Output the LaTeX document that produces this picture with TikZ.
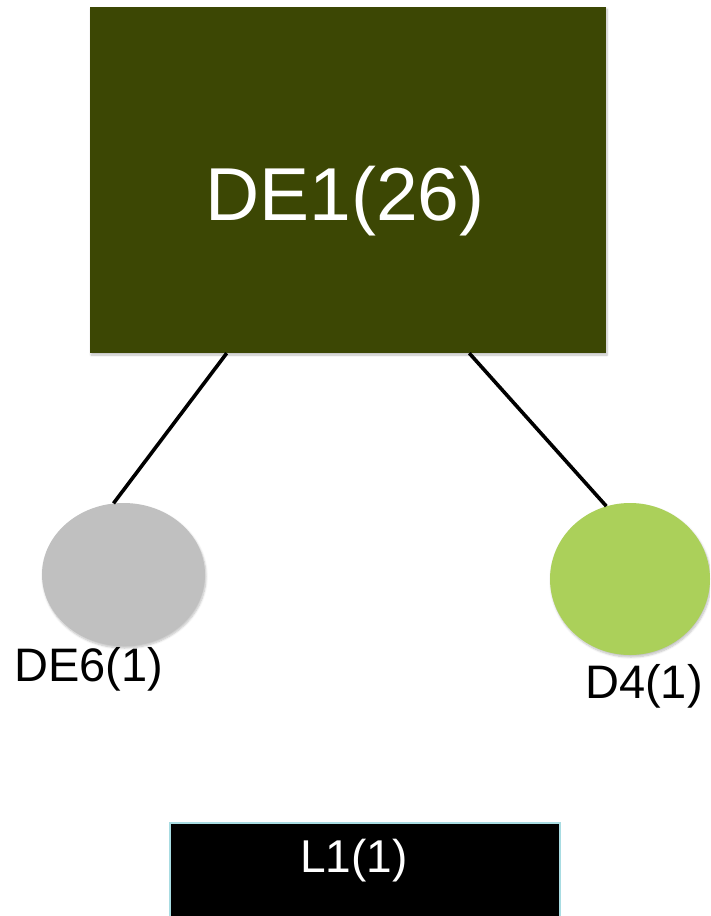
\documentclass[tikz,border=0pt]{standalone}
\usepackage{fontspec}
\setmainfont{Liberation Sans}
\usetikzlibrary{shapes.geometric,shadows.blur}
\definecolor{olivebox}{HTML}{3C4704}
\definecolor{greydot}{HTML}{C0C0C0}
\definecolor{limedot}{HTML}{ABD05A}
\definecolor{paleedge}{HTML}{A8DCE2}
\tikzset{
  x=1pt, y=1pt,
  softshadow/.style={blur shadow={shadow xshift=1pt, shadow yshift=-2pt, shadow blur steps=6, shadow opacity=25}},
  bigbox/.style={rectangle, fill=olivebox, inner sep=0pt, minimum width=516pt, minimum height=346pt, softshadow},
  dot/.style={ellipse, inner sep=0pt, softshadow},
  leaf/.style={font=\fontsize{47}{52}\selectfont, text=black, inner sep=0pt},
  link/.style={line width=3.6pt, black},
  footbox/.style={rectangle, fill=black, draw=paleedge, line width=1.5pt, inner sep=0pt,
    minimum width=390pt, minimum height=110pt}
}
\begin{document}
\begin{tikzpicture}
\useasboundingbox (0,0) rectangle (710,-916);
\clip (0,0) rectangle (710,-916);

% root node
\node[bigbox] (de1) at (348,-180) {};
\node[text=white, font=\fontsize{75}{82}\selectfont, inner sep=0pt] (de1txt) at (345,-201) {DE1(26)};

% children
\node[dot, fill=greydot, minimum width=163pt, minimum height=143pt] (de6) at (123.5,-574.5) {};
\node[dot, fill=limedot, minimum width=160pt, minimum height=152pt] (d4) at (630,-579) {};

\node[leaf] (de6lbl) at (89,-669) {DE6(1)};
\node[leaf] (d4lbl) at (644,-686) {D4(1)};

% connectors
\draw[link] (de1.235.7) -- (de6.98.8);
\draw[link] (de1.305.2) -- (d4.108.7);

% bottom box
\node[footbox] (l1) at (365,-878) {};
\node[text=white, font=\fontsize{46}{50}\selectfont, inner sep=0pt] (l1txt) at (354,-861) {L1(1)};
\end{tikzpicture}
\end{document}
